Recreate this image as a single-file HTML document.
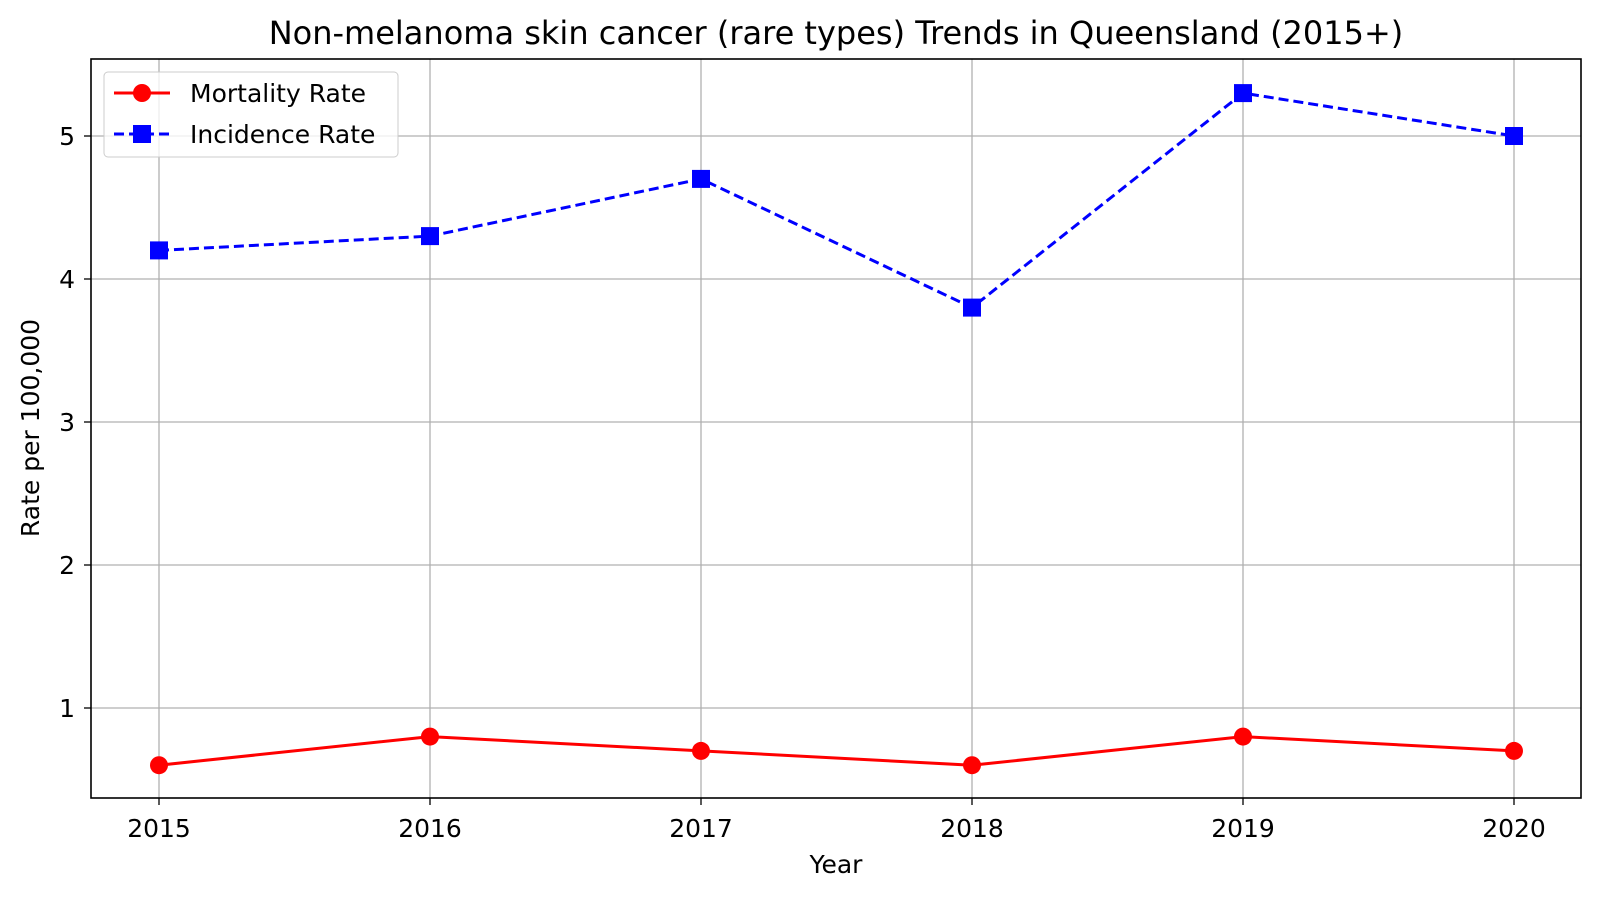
<!DOCTYPE html>
<html><head><meta charset="utf-8"><style>
body{margin:0;background:#fff}
svg text{font-family:"DejaVu Sans","Liberation Sans",sans-serif;fill:#000}
</style></head><body>
<svg id="chart" width="1600" height="898" xmlns="http://www.w3.org/2000/svg">
<text x="836" y="44" font-size="32" text-anchor="middle">Non-melanoma skin cancer (rare types) Trends in Queensland (2015+)</text>
<g id="grid"></g>
<g id="axes"></g>
<g id="series"></g>
<rect x="91" y="59" width="1490" height="739" fill="none" stroke="#000" stroke-width="1.6"/>
<text x="836" y="873" font-size="25" text-anchor="middle">Year</text>
<text transform="translate(39,428) rotate(-90)" font-size="25" text-anchor="middle">Rate per 100,000</text>
<g>
<rect x="104" y="72" width="294" height="85" rx="4" fill="#fff" fill-opacity="0.8" stroke="#ccc"/>
<line x1="114" y1="93" x2="170" y2="93" stroke="red" stroke-width="3"/>
<circle cx="142" cy="93" r="9" fill="red"/>
<text x="190" y="102" font-size="25">Mortality Rate</text>
<line x1="114" y1="134" x2="170" y2="134" stroke="blue" stroke-width="3" stroke-dasharray="10,5"/>
<rect x="133" y="125" width="18" height="18" fill="blue"/>
<text x="190" y="143" font-size="25">Incidence Rate</text>
</g>
</svg>
<script>
const years=[2015,2016,2017,2018,2019,2020];
const mortality=[0.6,0.8,0.7,0.6,0.8,0.7];
const incidence=[4.2,4.3,4.7,3.8,5.3,5.0];
const yTicks=[1,2,3,4,5];
const NS="http://www.w3.org/2000/svg";
const X=v=>159+(v-2015)*(1514-159)/5;
const Y=v=>136-(v-5)*143;
function mk(t,a,p){const e=document.createElementNS(NS,t);for(const k in a)e.setAttribute(k,a[k]);p.appendChild(e);return e;}
const g=document.getElementById('grid'),ax=document.getElementById('axes'),s=document.getElementById('series');
years.forEach(y=>{
 const l=mk('line',{x1:X(y),x2:X(y),y1:59,y2:798,stroke:'#b0b0b0','stroke-width':1.3},g);
 
 
 mk('line',{x1:X(y),x2:X(y),y1:798,y2:805,stroke:'#000','stroke-width':1.3},ax);
 const t=mk('text',{x:X(y),y:837,'font-size':25,'text-anchor':'middle'},ax);t.textContent=y;
 
 
});
yTicks.forEach(v=>{
 const l=mk('line',{x1:91,x2:1581,y1:Y(v),y2:Y(v),stroke:'#b0b0b0','stroke-width':1.3},g);
 
 
 mk('line',{x1:84,x2:91,y1:Y(v),y2:Y(v),stroke:'#000','stroke-width':1.3},ax);
 const t=mk('text',{x:75,y:Y(v)+9,'font-size':25,'text-anchor':'end'},ax);t.textContent=v;
 
 
});
const pm=mk('polyline',{points:years.map((y,i)=>X(y)+','+Y(mortality[i])).join(' '),fill:'none',stroke:'red','stroke-width':3},s);


const pi=mk('polyline',{points:years.map((y,i)=>X(y)+','+Y(incidence[i])).join(' '),fill:'none',stroke:'blue','stroke-width':3,'stroke-dasharray':'10,5'},s);


years.forEach((y,i)=>{
 const c=mk('circle',{cx:X(y),cy:Y(mortality[i]),r:9,fill:'red'},s);
 
 
 const r=mk('rect',{x:X(y)-9,y:Y(incidence[i])-9,width:18,height:18,fill:'blue'},s);
 
 
});
</script>
</body></html>
